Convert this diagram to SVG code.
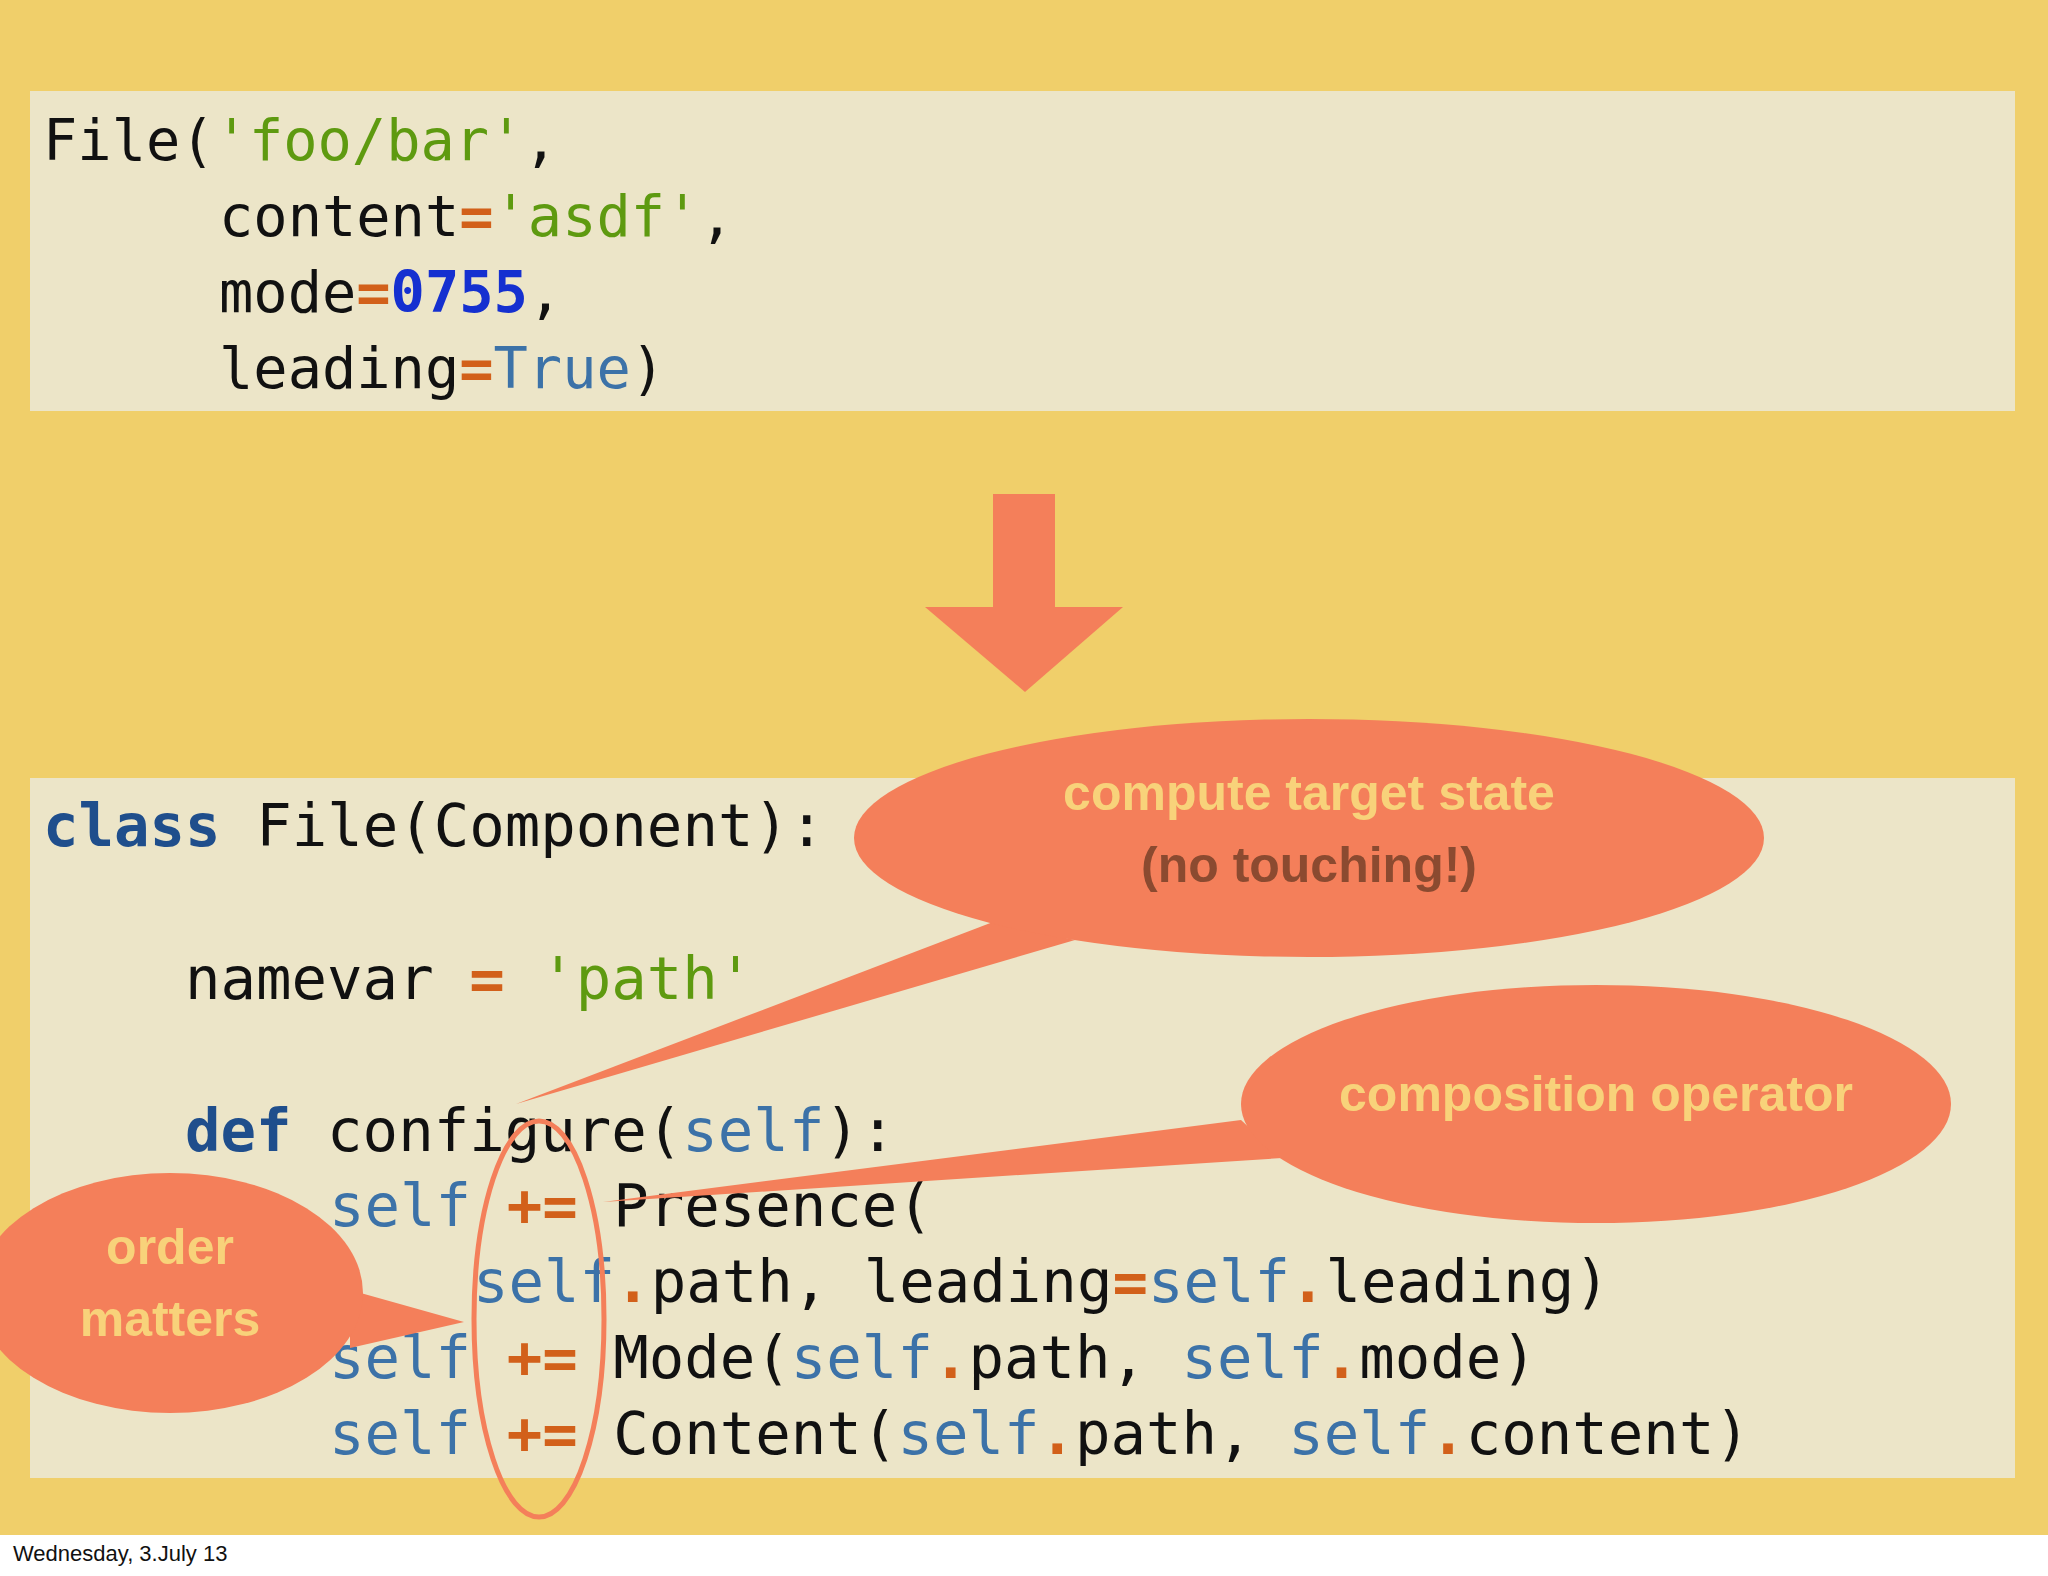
<svg xmlns="http://www.w3.org/2000/svg" width="2048" height="1576" viewBox="0 0 2048 1576">
<style>
.c{font-family:"DejaVu Sans Mono",monospace;fill:#111;white-space:pre}
.t{font-size:57px}.b{font-size:59px}
.k{fill:#1F4E8C;font-weight:bold}.s{fill:#3C72A8}.g{fill:#5E9A10}.o{fill:#D2601A;font-weight:bold}.n{fill:#1530D0;font-weight:bold}
.bub{fill:#F47F5A}
.lb{font-family:"Liberation Sans",Arial,sans-serif;font-weight:bold;font-size:50px;text-anchor:middle;fill:#F8D27A}
</style>
<rect width="2048" height="1576" fill="#fff"/>
<rect width="2048" height="1535" fill="#F0CF6A"/>
<g id="top-code">
<rect x="30" y="91" width="1985" height="320" fill="#ECE5C8"/>
<text class="c t" xml:space="preserve"><tspan x="43" y="160">File(<tspan class="g">'foo/bar'</tspan>,</tspan><tspan x="219" y="236">content<tspan class="o">=</tspan><tspan class="g">'asdf'</tspan>,</tspan><tspan x="219" y="312">mode<tspan class="o">=</tspan><tspan class="n">0755</tspan>,</tspan><tspan x="219" y="388">leading<tspan class="o">=</tspan><tspan class="s">True</tspan>)</tspan></text>
</g>
<g id="arrow"><rect x="993" y="494" width="62" height="114" class="bub"/><polygon points="925,607 1123,607 1025,692" class="bub"/></g>
<g id="bottom-code">
<rect x="30" y="778" width="1985" height="700" fill="#ECE5C8"/>
<text class="c b" xml:space="preserve"><tspan x="43" y="846"><tspan class="k">class</tspan> File(Component):</tspan><tspan x="185" y="999">namevar <tspan class="o">=</tspan> <tspan class="g">'path'</tspan></tspan><tspan x="185" y="1151"><tspan class="k">def</tspan> configure(<tspan class="s">self</tspan>):</tspan><tspan x="329" y="1226"><tspan class="s">self</tspan> <tspan class="o">+=</tspan> Presence(</tspan><tspan x="473" y="1302"><tspan class="s">self</tspan><tspan class="o">.</tspan>path, leading<tspan class="o">=</tspan><tspan class="s">self</tspan><tspan class="o">.</tspan>leading)</tspan><tspan x="329" y="1378"><tspan class="s">self</tspan> <tspan class="o">+=</tspan> Mode(<tspan class="s">self</tspan><tspan class="o">.</tspan>path, <tspan class="s">self</tspan><tspan class="o">.</tspan>mode)</tspan><tspan x="329" y="1454"><tspan class="s">self</tspan> <tspan class="o">+=</tspan> Content(<tspan class="s">self</tspan><tspan class="o">.</tspan>path, <tspan class="s">self</tspan><tspan class="o">.</tspan>content)</tspan></text>
</g>
<g id="connectors">
<polygon class="bub" points="993,922 1075,940 516,1104"/>
<polygon class="bub" points="1241,1120 1282,1158 603,1202"/>
<polygon class="bub" points="350,1290 350,1348 464,1322"/>
</g>
<g id="bubble-target"><ellipse cx="1309" cy="838" rx="455" ry="119" class="bub"/>
<text class="lb" x="1309" y="810">compute target state</text><text class="lb" x="1309" y="882" style="fill:#8B4A30">(no touching!)</text></g>
<g id="bubble-composition"><ellipse cx="1596" cy="1104" rx="355" ry="119" class="bub"/>
<text class="lb" x="1596" y="1111">composition operator</text></g>
<g id="bubble-order"><ellipse cx="170" cy="1293" rx="193" ry="120" class="bub"/>
<text class="lb" x="170" y="1264">order</text><text class="lb" x="170" y="1336">matters</text></g>
<g id="highlight"><ellipse cx="539" cy="1319" rx="65" ry="198" fill="none" stroke="#F47F5A" stroke-width="5"/></g>
<text x="13" y="1561" font-family="Liberation Sans,Arial,sans-serif" font-size="22" fill="#111">Wednesday, 3.July 13</text>
</svg>
